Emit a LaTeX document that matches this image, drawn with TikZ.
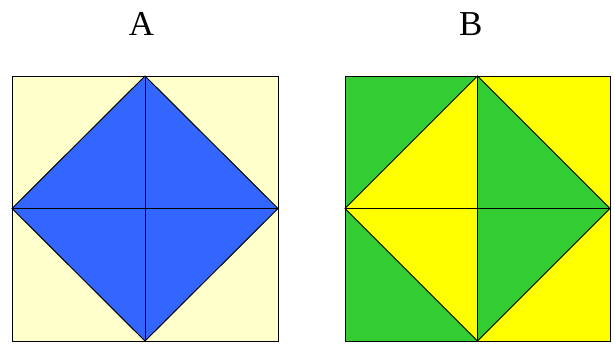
\documentclass[tikz,border=0pt]{standalone}
\usepackage{fontspec}
\setmainfont{Liberation Serif}
\definecolor{paleY}{HTML}{FFFFCC}
\definecolor{blueF}{HTML}{3366FF}
\definecolor{greenF}{HTML}{33CC33}
\definecolor{yelF}{HTML}{FFFF00}
\begin{document}
\begin{tikzpicture}[x=1pt,y=-1pt,line width=1pt,
  lbl/.style={font=\fontsize{35}{35}\selectfont, inner sep=0pt, anchor=base},
  edge/.style={draw=black}]
\useasboundingbox (0,0) rectangle (615,343);
% Labels
\node[lbl] (la) at (141.5,35) {A};
\node[lbl] (lb) at (470.7,35) {B};
% Square A
\coordinate (a1) at (12,76);
\coordinate (a2) at (278,76);
\coordinate (a3) at (278,341);
\coordinate (a4) at (12,341);
\coordinate (at) at (145,76);
\coordinate (ar) at (278,208.5);
\coordinate (ab) at (145,341);
\coordinate (al) at (12,208.5);
\coordinate (ac) at (145,208.5);
\fill[paleY] (a1) rectangle (a3);
\fill[blueF] (at) -- (ar) -- (ab) -- (al) -- cycle;
\draw[edge] (a1) rectangle (a3);
\draw[edge] (at) -- (ar) -- (ab) -- (al) -- cycle;
\draw[edge] (at) -- (ab);
\draw[edge] (al) -- (ar);
% Square B
\coordinate (b1) at (345,76);
\coordinate (b2) at (610,76);
\coordinate (b3) at (610,341);
\coordinate (b4) at (345,341);
\coordinate (bt) at (477.5,76);
\coordinate (br) at (610,208.5);
\coordinate (bb) at (477.5,341);
\coordinate (bl) at (345,208.5);
\coordinate (bc) at (477.5,208.5);
\fill[greenF] (b1) -- (bt) -- (bb) -- (b4) -- cycle;
\fill[yelF] (bt) -- (b2) -- (b3) -- (bb) -- cycle;
\fill[yelF] (bt) -- (bl) -- (bb) -- cycle;
\fill[greenF] (bt) -- (br) -- (bb) -- cycle;
\draw[edge] (b1) rectangle (b3);
\draw[edge] (bt) -- (br) -- (bb) -- (bl) -- cycle;
\draw[edge] (bt) -- (bb);
\draw[edge] (bl) -- (br);
\end{tikzpicture}
\end{document}
